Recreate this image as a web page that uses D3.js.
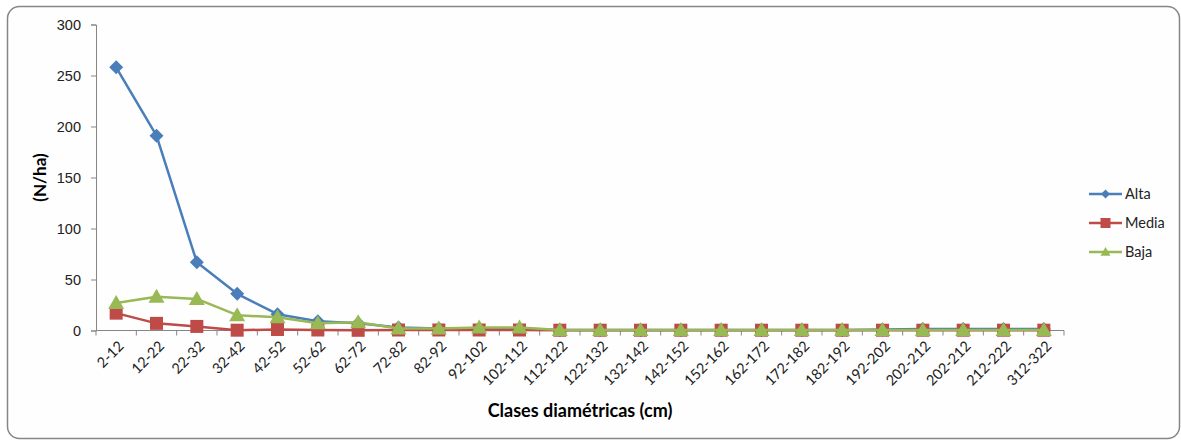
<!DOCTYPE html>
<html>
<head>
<meta charset="utf-8">
<script src="https://cdn.jsdelivr.net/npm/d3@7"></script>
<style>
  body { margin: 0; background: #fff; }
  svg { display: block; font-family: Lato, "Open Sans", sans-serif; }
</style>
</head>
<body>
<svg id="chart" width="1181" height="440"></svg>
<script>
// categories (diameter classes)
const categories = ["2-12", "12-22", "22-32", "32-42", "42-52", "52-62", "62-72", "72-82", "82-92",
  "92-102", "102-112", "112-122", "122-132", "132-142", "142-152", "152-162", "162-172",
  "172-182", "182-192", "192-202", "202-212", "202-212 ", "212-222", "312-322"];

const alta  = [258, 191, 67, 36, 16, 9, 7, 3, 2, 2, 2, 0.5, 0.5, 0.5, 0.5, 0.5, 0.5, 0.5, 0.5, 1, 1.5, 1.5, 1.5, 1.5];
const media = [17, 7, 4, 0.3, 1, 0.5, 0.2, 0.5, 0.5, 0.5, 0.5, 0.3, 0.3, 0.3, 0.3, 0.3, 0.3, 0.3, 0.3, 0.3, 0.3, 0.3, 0.3, 0.3];
const baja  = [27, 33, 31, 15, 13, 7, 8, 2, 2, 3, 3, 0.5, 0.5, 0.5, 0.5, 0.5, 0.5, 0.5, 0.5, 0.5, 0.5, 0.5, 0.5, 0.5];

const yTicks = [0, 50, 100, 150, 200, 250, 300];

const series = [
  { name: "Alta",  values: alta,  color: "#4a7ebb", shape: "diamond" },
  { name: "Media", values: media, color: "#be4b48", shape: "square" },
  { name: "Baja",  values: baja,  color: "#98b954", shape: "triangle" }
];

const svg = d3.select("#chart");
const plot = { left: 96, right: 1064, top: 24.5, bottom: 330.5 };

// outer frame
svg.append("rect")
  .attr("x", 7.5).attr("y", 6.5)
  .attr("width", 1172).attr("height", 432)
  .attr("rx", 12).attr("ry", 12)
  .attr("fill", "#fefefe")
  .attr("stroke", "#868686")
  .attr("stroke-width", 1.5);

const x = d3.scaleBand().domain(categories).range([plot.left, plot.right]);
const y = d3.scaleLinear().domain([0, 300]).range([plot.bottom, plot.top]);
const cx = d => x(d) + x.bandwidth() / 2;

// y axis
const yAxis = svg.append("g")
  .attr("transform", `translate(${plot.left},0)`)
  .call(d3.axisLeft(y).tickValues(yTicks).tickSize(5).tickPadding(10));
yAxis.select(".domain").attr("stroke", "#868686");
yAxis.selectAll(".tick line").attr("stroke", "#868686");
yAxis.selectAll(".tick text").attr("font-size", 14.5).attr("fill", "#222");

// x axis: ticks on band boundaries
const xg = svg.append("g").attr("transform", `translate(0,${plot.bottom})`);
xg.append("line")
  .attr("x1", plot.left).attr("x2", plot.right)
  .attr("stroke", "#868686");
const bounds = categories.map(c => x(c)).concat([plot.right]);
xg.selectAll(".tk").data(bounds).join("line")
  .attr("class", "tk")
  .attr("x1", d => d).attr("x2", d => d)
  .attr("y1", 0).attr("y2", 5)
  .attr("stroke", "#868686");
xg.selectAll(".lbl").data(categories).join("text")
  .attr("class", "lbl")
  .attr("transform", d => `translate(${cx(d) + 5},${13}) rotate(-45)`)
  .attr("text-anchor", "end")
  .attr("dy", "0.35em")
  .attr("font-size", 14.5)
  .attr("fill", "#222")
  .text(d => d.trim());

// axis titles
svg.append("text")
  .attr("transform", `translate(46,${(plot.top + plot.bottom) / 2}) rotate(-90)`)
  .attr("text-anchor", "middle")
  .attr("font-size", 17).attr("font-weight", "bold")
  .text("(N/ha)");
svg.append("text")
  .attr("x", 580).attr("y", 417)
  .attr("text-anchor", "middle")
  .attr("font-size", 18).attr("font-weight", "bold")
  .text("Clases diamétricas (cm)");

// markers
function marker(g, shape, color, s) {
  if (shape === "diamond") {
    g.append("path").attr("d", `M0,${-s}L${s},0L0,${s}L${-s},0Z`).attr("fill", color);
  } else if (shape === "square") {
    g.append("rect").attr("x", -s).attr("y", -s)
      .attr("width", s * 2).attr("height", s * 2).attr("fill", color);
  } else {
    g.append("path").attr("d", `M0,${-s}L${s},${s * 0.75}L${-s},${s * 0.75}Z`).attr("fill", color);
  }
}

const line = d3.line().x((d, i) => cx(categories[i])).y(d => y(d));

series.forEach(s => {
  svg.append("path")
    .datum(s.values)
    .attr("d", line)
    .attr("fill", "none")
    .attr("stroke", s.color)
    .attr("stroke-width", 2.5)
    .attr("stroke-linejoin", "round");
  s.values.forEach((v, i) => {
    const g = svg.append("g").attr("transform", `translate(${cx(categories[i])},${y(v)})`);
    const size = { diamond: 7, square: 6.5, triangle: 8 }[s.shape];
    marker(g, s.shape, s.color, size);
  });
});

// legend
const legend = svg.append("g");
series.forEach((s, i) => {
  const ly = 194 + i * 29;
  legend.append("line")
    .attr("x1", 1089).attr("x2", 1122)
    .attr("y1", ly).attr("y2", ly)
    .attr("stroke", s.color).attr("stroke-width", 2.5);
  const g = legend.append("g").attr("transform", `translate(1105.5,${ly})`);
  const size = { diamond: 4.5, square: 5, triangle: 5 }[s.shape];
  marker(g, s.shape, s.color, size);
  legend.append("text")
    .attr("x", 1125).attr("y", ly)
    .attr("dy", "0.35em")
    .attr("font-size", 14.5)
    .attr("fill", "#222")
    .text(s.name);
});
</script>
</body>
</html>
